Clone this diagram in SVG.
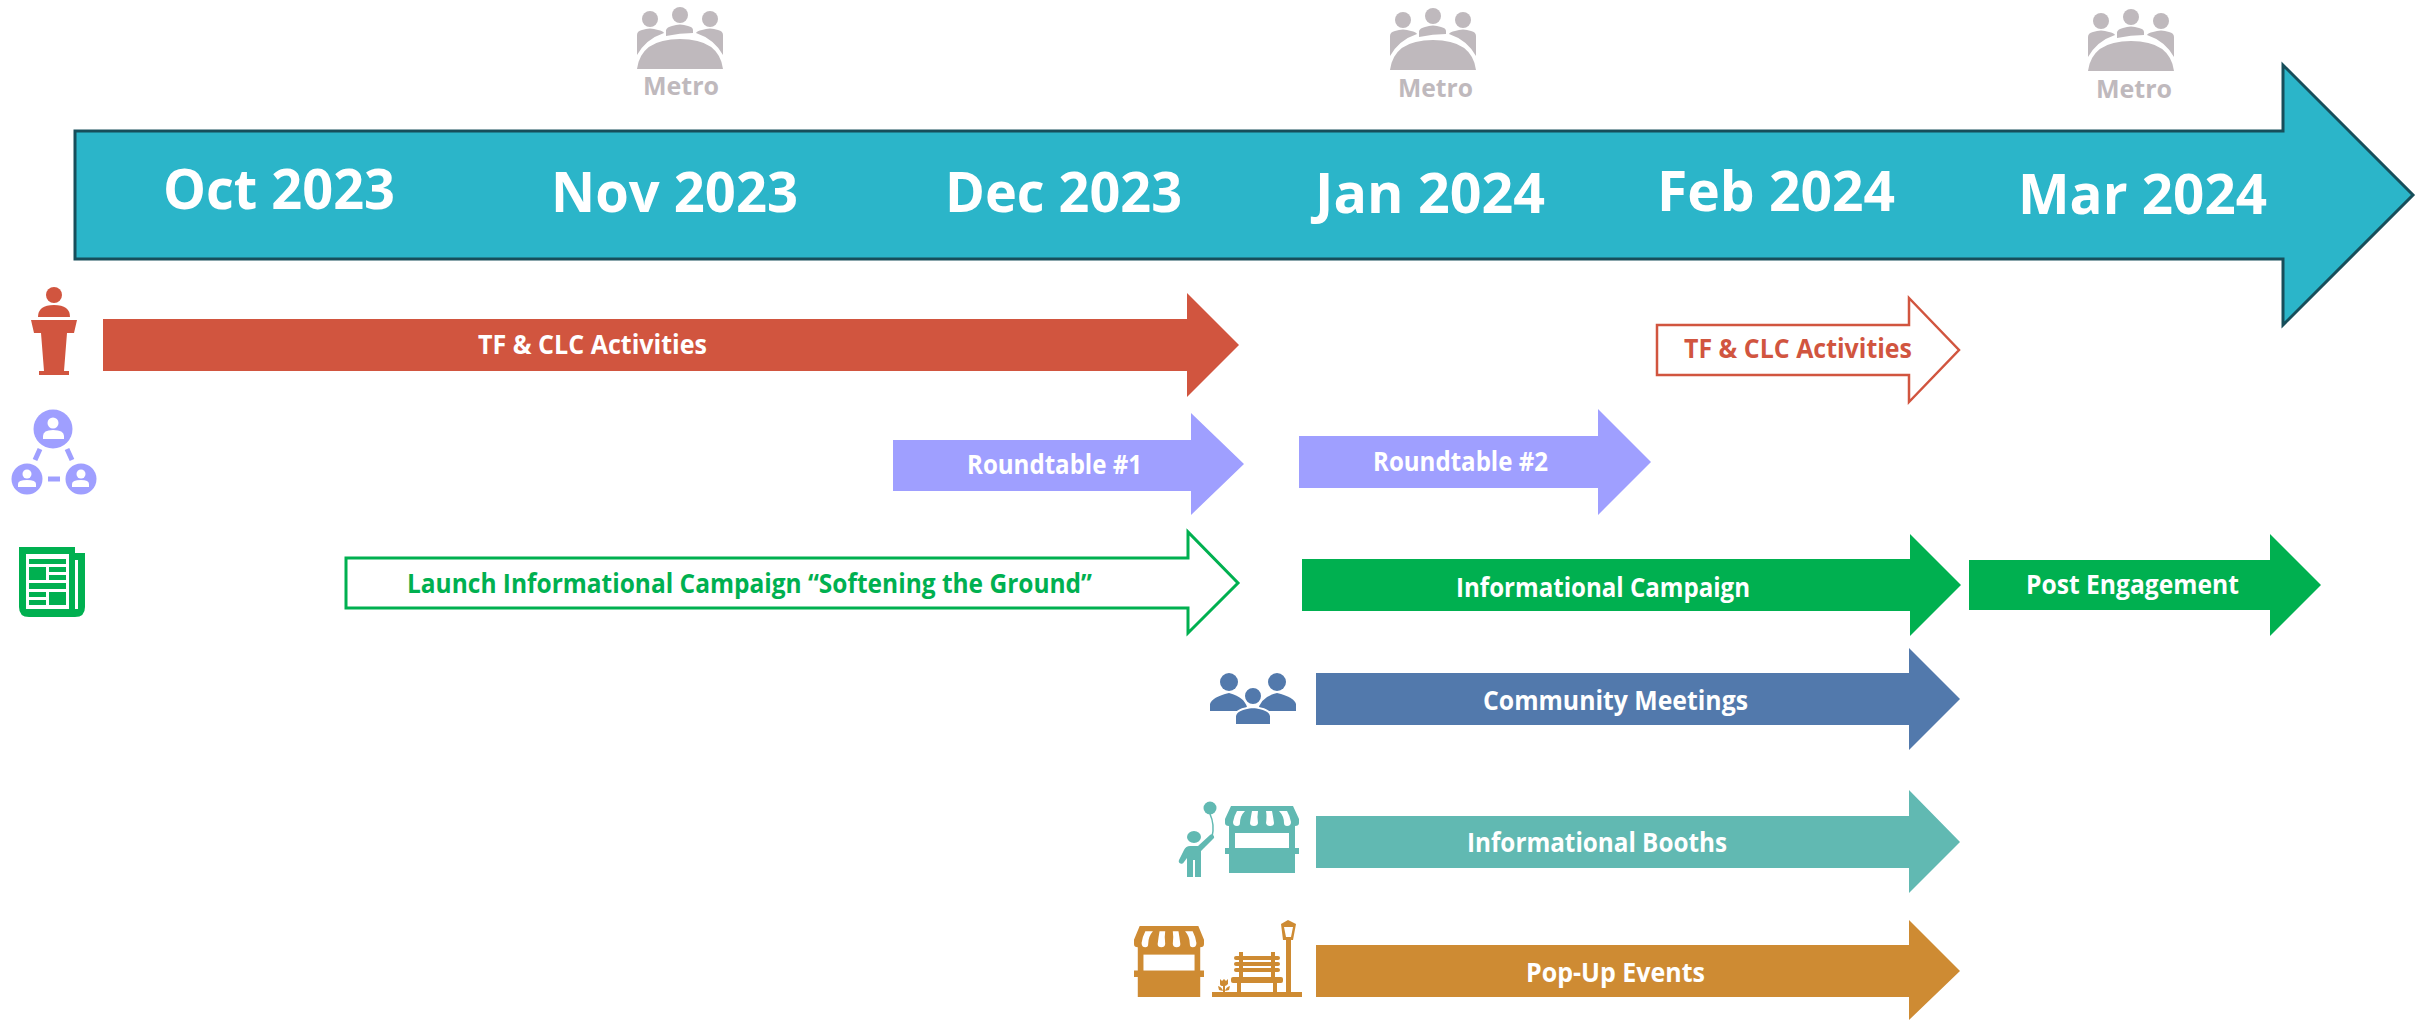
<svg xmlns="http://www.w3.org/2000/svg" width="2420" height="1020" viewBox="0 0 2420 1020">
<style>
text{font-family:"Open Sans","Noto Sans","Liberation Sans",sans-serif;font-weight:700}
.month{font-size:56px;fill:#fff}
.lbl{font-size:26px;fill:#fff}
.metro{font-size:25px;fill:#bfb9bd}
.red{fill:#d1553f}.pur{fill:#9f9fff}.grn{fill:#00b050}.blu{fill:#5279ac}.tea{fill:#61b9b2}.ora{fill:#ce8b33}
.w{fill:#fff}
</style>
<defs>
<g id="metroIcon" fill="#bfb9bd">
<circle cx="650" cy="19" r="8"/><circle cx="680" cy="15" r="8"/><circle cx="710" cy="19" r="8"/>
<path d="M637 55V35Q637 31 642 30Q650 27 658 30Q663 31 664 33Q646 39 637 55Z"/>
<path d="M666 36V30Q667 27 672 26Q680 23 688 26Q693 27 693 30V33Q680 33 666 36Z"/>
<path d="M723 55V35Q723 31 718 30Q710 27 702 30Q697 31 696 33Q714 39 723 55Z"/>
<path d="M637 69Q641 39 680 39Q719 39 723 69Z"/>
</g>
<g id="booth">
<path d="M6 0H68L74 13V17Q74 20 70 20V42H74V48H70V67H4V48H0V42H4V20Q0 20 0 17V13Z"/>
<rect class="w" x="10" y="27" width="54" height="15"/>
<path class="w" d="M12 5H20Q15 10 15 17Q15 20 12 20Q8 20 8 16Q9 10 12 5Z"/>
<path class="w" d="M27 5H33Q32 10 33 17Q32.500 20 29 20Q25 20 25 17Q26 10 27 5Z"/>
<path class="w" d="M47 5H41Q42 10 41 17Q41.500 20 45 20Q49 20 49 17Q48 10 47 5Z"/>
<path class="w" d="M62 5H54Q59 10 59 17Q59 20 62 20Q66 20 66 16Q65 10 62 5Z"/>
</g>
</defs>

<g id="timeline">
<path d="M75 131H2283V65L2413 195L2283 325V259H75Z" fill="#2bb5c9" stroke="#174e5a" stroke-width="3"/>
<text class="month" x="163" y="209" textLength="232" lengthAdjust="spacingAndGlyphs">Oct 2023</text>
<text class="month" x="551" y="212" textLength="247" lengthAdjust="spacingAndGlyphs">Nov 2023</text>
<text class="month" x="945" y="212" textLength="237" lengthAdjust="spacingAndGlyphs">Dec 2023</text>
<text class="month" x="1315" y="213" textLength="230" lengthAdjust="spacingAndGlyphs">Jan 2024</text>
<text class="month" x="1657" y="211" textLength="238" lengthAdjust="spacingAndGlyphs">Feb 2024</text>
<text class="month" x="2018" y="214" textLength="249" lengthAdjust="spacingAndGlyphs">Mar 2024</text>
</g>

<g id="metro-nov"><use href="#metroIcon"/><text class="metro" x="643" y="95" textLength="76" lengthAdjust="spacingAndGlyphs">Metro</text></g>
<g id="metro-jan"><use href="#metroIcon" x="753" y="1"/><text class="metro" x="1398" y="97" textLength="75" lengthAdjust="spacingAndGlyphs">Metro</text></g>
<g id="metro-mar"><use href="#metroIcon" x="1451" y="2"/><text class="metro" x="2096" y="98" textLength="76" lengthAdjust="spacingAndGlyphs">Metro</text></g>

<g id="icon-podium" class="red">
<circle cx="54" cy="295" r="8"/>
<path d="M38 317Q38 305 54 305Q70 305 70 317Z"/>
<path d="M31 320H77L74 333H67L64 371H69V375H39V371H44L41 333H34Z"/>
</g>
<g id="icon-network">
<g class="pur">
<circle cx="53" cy="429" r="19.500"/><circle cx="27" cy="479" r="15.500"/><circle cx="81" cy="479" r="15.500"/>
<path d="M40 449L35 460M67 449L72 460M48 479H60" stroke="#9f9fff" stroke-width="5" fill="none"/>
</g>
<g class="w">
<circle cx="53" cy="423" r="5.500"/><path d="M43 439V436Q43 430 53 430Q64 430 64 436V439Z"/>
<circle cx="27" cy="474" r="4.500"/><path d="M18 487V484Q18 480 27 480Q36 480 36 484V487Z"/>
<circle cx="81" cy="474" r="4.500"/><path d="M72 487V484Q72 480 81 480Q89 480 89 484V487Z"/>
</g>
</g>
<g id="icon-newspaper">
<path class="grn" d="M19 547H75V553H85V607Q85 617 75 617H29Q19 617 19 607Z"/>
<rect class="w" x="26" y="554" width="43" height="55"/>
<rect class="w" x="75" y="560" width="3" height="49"/>
<path class="grn" d="M29 559h37v5h-37zM29 567h17v13h-17zM49 567h17v5h-17zM49 575h17v5h-17zM29 583h37v6h-37zM29 592h17v5h-17zM29 600h17v5h-17zM49 592h17v13h-17z"/>
</g>
<g id="icon-community" class="blu">
<circle cx="1229" cy="682" r="9"/><circle cx="1277" cy="682" r="9"/>
<path d="M1210 711V704Q1212 697 1229 693Q1246 697 1248 711Z"/>
<path d="M1296 711V704Q1294 697 1277 693Q1260 697 1258 711Z"/>
<circle cx="1253" cy="696" r="9" stroke="#fff" stroke-width="2"/>
<path d="M1235 725V716Q1236 709 1253 707Q1270 709 1271 716V725Z" stroke="#fff" stroke-width="2"/>
</g>
<g id="icon-child-booth" class="tea">
<circle cx="1210" cy="808" r="6.500"/>
<path d="M1210 814Q1215 825 1212 837" fill="none" stroke="#61b9b2" stroke-width="1.500"/>
<ellipse cx="1194" cy="837" rx="7" ry="6"/>
<path d="M1187 877V858L1184 862A2.500 2.500 0 0 1 1179 860L1184 850Q1186 846 1190 846H1198L1210 835A2 2 0 0 1 1213 839L1201 851V877H1195V860H1193V877Z"/>
<use href="#booth" transform="translate(1225 806)"/>
</g>
<g id="icon-booth-bench" class="ora">
<use href="#booth" transform="translate(1134 926) scale(.946 1.06)"/>
<rect x="1212" y="992" width="90" height="5"/>
<rect x="1286" y="940" width="5" height="52"/>
<path fill-rule="evenodd" d="M1288 920L1296 924L1293 940H1283L1281 924ZM1284 927L1286 937H1291L1293 927Z"/>
<rect x="1231" y="977" width="52" height="6" rx="2"/>
<path d="M1237 983h4v9h-4zM1273 983h4v9h-4zM1239 952h4v25h-4zM1271 952h4v25h-4z"/>
<rect x="1234" y="956" width="46" height="4" rx="2"/><rect x="1234" y="962" width="46" height="4" rx="2"/><rect x="1234" y="968" width="46" height="4" rx="2"/>
<path d="M1220 979L1222 981L1224 979L1226 981L1228 979V984Q1226 986 1225 986V992H1223V986Q1220 986 1220 984Z"/>
<path d="M1218 986Q1222 987 1223 991L1219 990ZM1230 986Q1226 987 1225 991L1229 990Z"/>
</g>

<g id="tf-1">
<path class="red" d="M103 319H1187V293L1239 345L1187 397V371H103Z"/>
<text class="lbl" x="478" y="354" textLength="229" lengthAdjust="spacingAndGlyphs">TF &amp; CLC Activities</text>
</g>
<g id="tf-2">
<path d="M1657 325H1909V298L1959 350L1909 402V375H1657Z" fill="#fff" stroke="#d1553f" stroke-width="2.500"/>
<text class="lbl" x="1684" y="358" textLength="228" lengthAdjust="spacingAndGlyphs" style="fill:#d1553f">TF &amp; CLC Activities</text>
</g>
<g id="roundtable-1">
<path class="pur" d="M893 440H1191V413L1244 464L1191 515V491H893Z"/>
<text class="lbl" x="967" y="474" textLength="175" lengthAdjust="spacingAndGlyphs">Roundtable #1</text>
</g>
<g id="roundtable-2">
<path class="pur" d="M1299 436H1598V409L1651 462L1598 515V488H1299Z"/>
<text class="lbl" x="1373" y="471" textLength="175" lengthAdjust="spacingAndGlyphs">Roundtable #2</text>
</g>
<g id="launch">
<path d="M346 558H1188V532L1238 583L1188 633V608H346Z" fill="#fff" stroke="#00b050" stroke-width="3"/>
<text class="lbl" x="407" y="593" textLength="685" lengthAdjust="spacingAndGlyphs" style="fill:#00b050">Launch Informational Campaign “Softening the Ground”</text>
</g>
<g id="info-campaign">
<path class="grn" d="M1302 559H1910V534L1961 585L1910 636V611H1302Z"/>
<text class="lbl" x="1456" y="597" textLength="294" lengthAdjust="spacingAndGlyphs">Informational Campaign</text>
</g>
<g id="post-engagement">
<path class="grn" d="M1969 560H2270V534L2321 585L2270 636V610H1969Z"/>
<text class="lbl" x="2026" y="594" textLength="213" lengthAdjust="spacingAndGlyphs">Post Engagement</text>
</g>
<g id="community-meetings">
<path class="blu" d="M1316 673H1909V648L1960 699L1909 750V725H1316Z"/>
<text class="lbl" x="1483" y="710" textLength="265" lengthAdjust="spacingAndGlyphs">Community Meetings</text>
</g>
<g id="info-booths">
<path class="tea" d="M1316 816H1909V790L1960 842L1909 893V868H1316Z"/>
<text class="lbl" x="1467" y="852" textLength="260" lengthAdjust="spacingAndGlyphs">Informational Booths</text>
</g>
<g id="popup-events">
<path class="ora" d="M1316 945H1909V920L1960 971L1909 1020V997H1316Z"/>
<text class="lbl" x="1526" y="982" textLength="179" lengthAdjust="spacingAndGlyphs">Pop-Up Events</text>
</g>
</svg>
